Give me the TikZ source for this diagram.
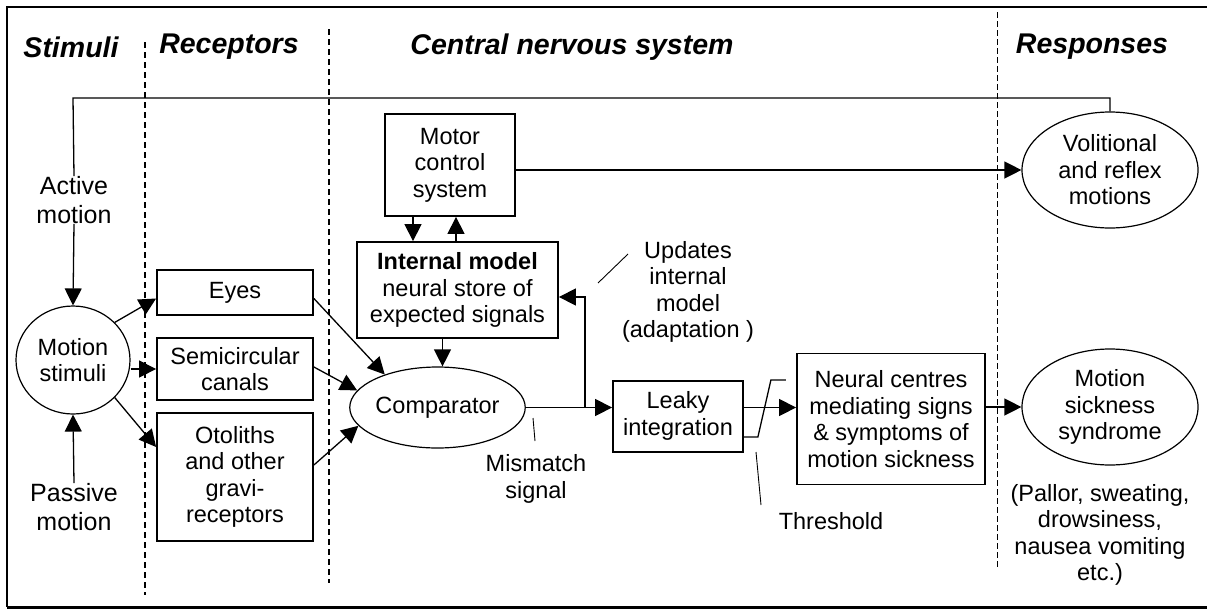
\documentclass[tikz,border=0pt]{standalone}
\usepackage{fontspec}
\setmainfont{Liberation Sans}
\usetikzlibrary{arrows.meta,shapes.geometric}
\begin{document}
\begin{tikzpicture}[x=1pt,y=-1pt,
  font=\fontsize{23.5}{26.5}\selectfont,
  box/.style={draw, line width=1.8pt, align=center, inner sep=0pt},
  ell/.style={draw, ellipse, line width=1.2pt, align=center, inner sep=0pt},
  conn/.style={line width=1.3pt},
  arr/.style={conn, -{Triangle[length=17pt,width=17pt]}},
  hdr/.style={font=\fontsize{28.5}{32}\selectfont\bfseries\itshape, inner sep=0pt},
  sep/.style={line width=1.6pt, dash pattern=on 6pt off 4pt},
  septhin/.style={line width=1pt, dash pattern=on 6pt off 3pt},
  big/.style={align=center, inner sep=0pt, font=\fontsize{25}{29}\selectfont},
  lbl/.style={align=center, inner sep=0pt}]
\useasboundingbox (0,0) rectangle (1207,611);
% frame
\draw[line width=1.5pt] (1207,7) -- (7,7) -- (7,607);
\draw[line width=3pt] (7,607) -- (1207,607);
% separators
\draw[sep] (145,42) -- (145,595);
\draw[sep] (329,29) -- (329,583);
\draw[septhin] (997,12) -- (997,568);
% headers
\node[hdr] (h1) at (71,47) {Stimuli};
\node[hdr] (h2) at (229,47) {Receptors};
\node[hdr] (h3) at (572,47) {Central nervous system};
\node[hdr] (h4) at (1092,47) {Responses};
% stimuli
\node[big] (act) at (74,200) {Active\\motion};
\node[big] (pas) at (74,507) {Passive\\motion};
\node[ell, minimum width=114pt, minimum height=108pt] (ms) at (73,360) {Motion\\stimuli};
% receptors
\node[box, minimum width=156pt, minimum height=45pt] (eyes) at (235,292.5) {Eyes};
\node[box, minimum width=156pt, minimum height=62pt] (semi) at (235,369) {Semicircular\\canals};
\node[box, minimum width=156pt, minimum height=128pt] (oto) at (235,477) {Otoliths\\and other\\gravi-\\receptors};
% CNS
\node[box, minimum width=130pt, minimum height=102pt] (motor) at (450,165) {Motor\\control\\system};
\node[box, minimum width=201pt, minimum height=96pt] (im) at (457.5,290) {\textbf{Internal model}\\neural store of\\expected signals};
\node[ell, minimum width=142pt, minimum height=81pt] (comp) at (437.5,407.5) {Comparator};
\node[box, minimum width=130pt, minimum height=71pt] (leaky) at (678,416.5) {\raisebox{9pt}{\begin{tabular}{@{}c@{}}Leaky\\integration\end{tabular}}};
\node[box, minimum width=188pt, minimum height=131pt] (neural) at (891,419) {Neural centres\\mediating signs\\\& symptoms of\\motion sickness};
\node[lbl] (upd) at (688,292) {Updates\\internal\\model\\(adaptation )};
\node[lbl] (mis) at (536,479) {Mismatch\\signal};
\node[lbl] (thr) at (831,521) {Threshold};
% responses
\node[ell, minimum width=176pt, minimum height=116pt] (vol) at (1110,170) {Volitional\\and reflex\\motions};
\node[ell, minimum width=176pt, minimum height=116pt] (ms2) at (1110,407) {Motion\\sickness\\syndrome};
\node[lbl] (pal) at (1100,535) {(Pallor, sweating,\\drowsiness,\\nausea vomiting\\etc.)};
% connectors
\coordinate (tl) at (73,98);
\draw[conn] (vol.north) |- (tl) -- (act.north);
\draw[arr] (act.south) -- (ms.north);
\draw[arr] (pas.north) -- (ms.south);
\draw[arr] (ms.42) -- ([yshift=-6pt]eyes.west);
\draw[arr] (semi.west -| ms.east) -- (semi.west);
\draw[arr] (ms.-42) -- ([yshift=30pt]oto.west);
\draw[arr] ([yshift=-6pt]eyes.east) -- (comp.148);
\draw[arr] ([yshift=2pt]semi.east) -- (comp.168);
\draw[arr] ([yshift=12pt]oto.east) -- (comp.193);
\draw[arr] ([xshift=-37pt]motor.south) -- ([xshift=-37pt]motor.south |- im.north);
\draw[arr] ([xshift=6pt]motor.south |- im.north) -- ([xshift=6pt]motor.south);
\draw[arr] ([xshift=-15pt]im.south) -- ([xshift=-15pt]im.south |- comp.north);
\draw[arr] (motor.east |- vol.west) -- (vol.west);
\draw[arr] (comp.east) -- (comp.east -| leaky.west);
\coordinate (br) at (585,407.5);
\draw[arr] (br) |- ([yshift=-7pt]im.east);
\draw[arr] (leaky.east |- comp.east) -- (neural.west |- comp.east);
\draw[conn] ([yshift=-20.5pt]leaky.east) -- ++(14,0) -- ++(13,-57) -- ++(15,0);
\draw[arr] (neural.east |- ms2.west) -- (ms2.west);
% leader lines
\coordinate (m1) at (533,418); \coordinate (m2) at (535,441);
\draw[line width=0.9pt] (m1) -- (m2);
\coordinate (u1) at (598,283); \coordinate (u2) at (628,254);
\draw[line width=0.9pt] (u1) -- (u2);
\coordinate (t1) at (756,452); \coordinate (t2) at (761,505);
\draw[line width=0.9pt] (t1) -- (t2);
\end{tikzpicture}
\end{document}
